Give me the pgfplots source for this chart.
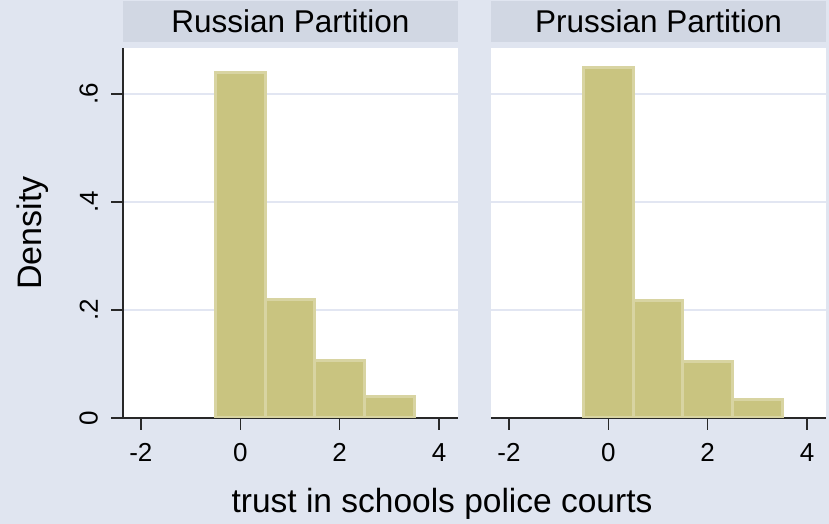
\documentclass[border=0pt]{standalone}
\usepackage{pgfplots}
\pgfplotsset{compat=1.18}
\usepackage{fontspec}
\setmainfont{Liberation Sans}

\definecolor{bgc}{RGB}{224,229,240}
\definecolor{stripc}{RGB}{209,215,227}
\definecolor{barc}{RGB}{201,196,128}
\definecolor{edgec}{RGB}{216,212,162}
\definecolor{gridc}{RGB}{226,230,242}
\definecolor{axc}{RGB}{40,40,40}

\pgfplotsset{
  layers/barsfirst/.define layer set={
    axis background,axis grid,main,axis ticks,axis lines,axis tick labels,axis descriptions,axis foreground
  }{},
  panel/.style={
    set layers=barsfirst,
    width=335pt, height=370pt, scale only axis,
    xmin=-2.36, xmax=4.38, ymin=0, ymax=0.685,
    axis background/.style={fill=white},
    axis x line*=bottom, axis y line*=left,
    axis line style={axc, line width=1.3pt, -},
    tick style={axc, line width=1.3pt},
    tick align=outside, major tick length=12pt,
    xtick={-2,0,2,4}, xticklabels={-2,0,2,4},
    ytick={0,0.2,0.4,0.6},
    ymajorgrids, grid style={gridc, line width=1.8pt},
    tick label style={font=\fontsize{26}{26}\selectfont, inner sep=0pt},
    xticklabel shift=13pt,
    title style={at={(0.5,1)}, anchor=south, fill=stripc, minimum width=335pt,
      minimum height=41pt, inner sep=0pt, font=\fontsize{31.5}{31.5}\selectfont},
  },
  hbar/.style={ybar, bar width=1, bar shift=0pt, fill=barc, draw=edgec, line width=3pt},
}

\begin{document}
\begin{tikzpicture}[x=1pt,y=1pt]
\fill[bgc] (0,0) rectangle (829,524);

% Russian partition
\begin{axis}[panel, at={(123pt,106pt)}, anchor=south west,
  title={Russian Partition},
  yticklabels={0,.2,.4,.6},
  yticklabel style={rotate=90, anchor=south},
  yticklabel shift=13pt]
\addplot[hbar] coordinates {(0,0.639) (1,0.2185) (2,0.1056) (3,0.039)};
\end{axis}

% Prussian partition
\begin{axis}[panel, at={(491pt,106pt)}, anchor=south west,
  title={Prussian Partition},
  y axis line style={draw=none}, ytick style={draw=none}, yticklabels={}]
\addplot[hbar] coordinates {(0,0.648) (1,0.2167) (2,0.1037) (3,0.035)};
\end{axis}

\node[rotate=90, font=\fontsize{34}{34}\selectfont] at (33,291) {Density};
\node[anchor=base, font=\fontsize{33.5}{33.5}\selectfont] at (442,11) {trust in schools police courts};
\end{tikzpicture}
\end{document}
